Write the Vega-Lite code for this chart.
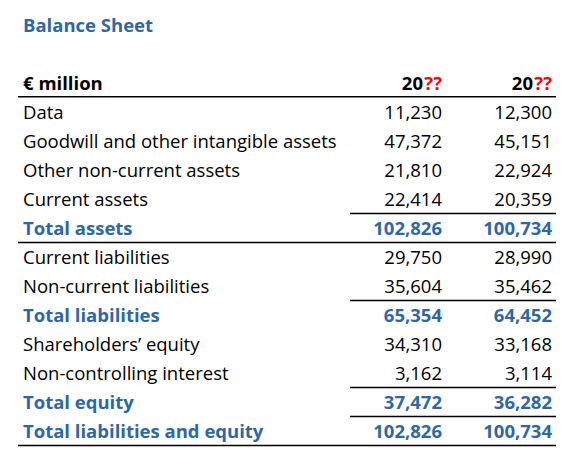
{
  "$schema": "https://vega.github.io/schema/vega-lite/v6.json",
  "width": 577,
  "height": 468,
  "padding": 0,
  "autosize": {"type": "none"},
  "background": "white",
  "config": {"view": {"stroke": null}, "text": {"font": "Open Sans", "fontSize": 18.5}},
  "datasets": {
    "labels": [
      {"row": -2, "col": -1, "text": "Balance Sheet", "kind": "title"},
      {"row": 0, "col": -1, "text": "€ million", "kind": "header"},
      {"row": 1, "col": -1, "text": "Data", "kind": "item"},
      {"row": 2, "col": -1, "text": "Goodwill and other intangible assets", "kind": "item"},
      {"row": 3, "col": -1, "text": "Other non-current assets", "kind": "item"},
      {"row": 4, "col": -1, "text": "Current assets", "kind": "item"},
      {"row": 5, "col": -1, "text": "Total assets", "kind": "total"},
      {"row": 6, "col": -1, "text": "Current liabilities", "kind": "item"},
      {"row": 7, "col": -1, "text": "Non-current liabilities", "kind": "item"},
      {"row": 8, "col": -1, "text": "Total liabilities", "kind": "total"},
      {"row": 9, "col": -1, "text": "Shareholders’ equity", "kind": "item"},
      {"row": 10, "col": -1, "text": "Non-controlling interest", "kind": "item"},
      {"row": 11, "col": -1, "text": "Total equity", "kind": "total"},
      {"row": 12, "col": -1, "text": "Total liabilities and equity", "kind": "total"}
    ],
    "values": [
      {"row": 1, "col": 1, "value": 11230, "kind": "item"},
      {"row": 1, "col": 2, "value": 12300, "kind": "item"},
      {"row": 2, "col": 1, "value": 47372, "kind": "item"},
      {"row": 2, "col": 2, "value": 45151, "kind": "item"},
      {"row": 3, "col": 1, "value": 21810, "kind": "item"},
      {"row": 3, "col": 2, "value": 22924, "kind": "item"},
      {"row": 4, "col": 1, "value": 22414, "kind": "item"},
      {"row": 4, "col": 2, "value": 20359, "kind": "item"},
      {"row": 5, "col": 1, "value": 102826, "kind": "total"},
      {"row": 5, "col": 2, "value": 100734, "kind": "total"},
      {"row": 6, "col": 1, "value": 29750, "kind": "item"},
      {"row": 6, "col": 2, "value": 28990, "kind": "item"},
      {"row": 7, "col": 1, "value": 35604, "kind": "item"},
      {"row": 7, "col": 2, "value": 35462, "kind": "item"},
      {"row": 8, "col": 1, "value": 65354, "kind": "total"},
      {"row": 8, "col": 2, "value": 64452, "kind": "total"},
      {"row": 9, "col": 1, "value": 34310, "kind": "item"},
      {"row": 9, "col": 2, "value": 33168, "kind": "item"},
      {"row": 10, "col": 1, "value": 3162, "kind": "item"},
      {"row": 10, "col": 2, "value": 3114, "kind": "item"},
      {"row": 11, "col": 1, "value": 37472, "kind": "total"},
      {"row": 11, "col": 2, "value": 36282, "kind": "total"},
      {"row": 12, "col": 1, "value": 102826, "kind": "total"},
      {"row": 12, "col": 2, "value": 100734, "kind": "total"}
    ],
    "header": [
      {"row": 0, "col": 1, "century": "20", "unknown": "??"},
      {"row": 0, "col": 2, "century": "20", "unknown": "??"}
    ],
    "rules": [
      {"row": 0.47, "from": -1, "to": 2},
      {"row": 4.5, "from": 0, "to": 2},
      {"row": 5.5, "from": -1, "to": 2},
      {"row": 7.5, "from": 0, "to": 2},
      {"row": 10.5, "from": 0, "to": 2},
      {"row": 11.5, "from": 0, "to": 2},
      {"row": 12.5, "from": -1, "to": 2}
    ]
  },
  "layer": [
    {
      "data": {"name": "rules"},
      "mark": {"type": "rule", "color": "#000000", "strokeWidth": 1.5},
      "encoding": {
        "x": {"field": "from", "type": "quantitative", "scale": {"type": "linear", "domain": [-1, 0, 1, 2], "range": [18, 350, 446, 556], "zero": false, "nice": false}, "axis": null},
        "x2": {"field": "to"},
        "y": {"field": "row", "type": "quantitative", "scale": {"type": "linear", "domain": [-2.862069, 13.275862], "range": [0, 468], "zero": false, "nice": false}, "axis": null}
      }
    },
    {
      "data": {"name": "labels"},
      "transform": [{"filter": "datum.kind === 'item'"}],
      "mark": {"type": "text", "align": "left", "baseline": "middle", "dx": 5, "dy": 1, "color": "#000000"},
      "encoding": {
        "x": {"field": "col", "type": "quantitative", "axis": null},
        "y": {"field": "row", "type": "quantitative", "axis": null},
        "text": {"field": "text"}
      }
    },
    {
      "data": {"name": "labels"},
      "transform": [{"filter": "datum.kind !== 'item'"}],
      "mark": {"type": "text", "align": "left", "baseline": "middle", "dx": 5, "dy": 1, "fontWeight": "bold"},
      "encoding": {
        "x": {"field": "col", "type": "quantitative", "axis": null},
        "y": {"field": "row", "type": "quantitative", "axis": null},
        "text": {"field": "text"},
        "color": {"field": "kind", "type": "nominal", "scale": {"domain": ["title", "header", "total"], "range": ["#2E67A6", "#000000", "#2E67A6"]}, "legend": null}
      }
    },
    {
      "data": {"name": "values"},
      "transform": [{"filter": "datum.kind === 'item'"}],
      "mark": {"type": "text", "align": "right", "baseline": "middle", "dx": -4, "dy": 1, "color": "#000000"},
      "encoding": {
        "x": {"field": "col", "type": "quantitative", "axis": null},
        "y": {"field": "row", "type": "quantitative", "axis": null},
        "text": {"field": "value", "type": "quantitative", "format": ","}
      }
    },
    {
      "data": {"name": "values"},
      "transform": [{"filter": "datum.kind === 'total'"}],
      "mark": {"type": "text", "align": "right", "baseline": "middle", "dx": -4, "dy": 1, "fontWeight": "bold", "color": "#2E67A6"},
      "encoding": {
        "x": {"field": "col", "type": "quantitative", "axis": null},
        "y": {"field": "row", "type": "quantitative", "axis": null},
        "text": {"field": "value", "type": "quantitative", "format": ","}
      }
    },
    {
      "data": {"name": "header"},
      "mark": {"type": "text", "align": "right", "baseline": "middle", "dx": -23, "dy": 1, "fontWeight": "bold", "color": "#000000"},
      "encoding": {
        "x": {"field": "col", "type": "quantitative", "axis": null},
        "y": {"field": "row", "type": "quantitative", "axis": null},
        "text": {"field": "century"}
      }
    },
    {
      "data": {"name": "header"},
      "mark": {"type": "text", "align": "right", "baseline": "middle", "dx": -4, "dy": 1, "fontWeight": "bold", "color": "#FF0000"},
      "encoding": {
        "x": {"field": "col", "type": "quantitative", "axis": null},
        "y": {"field": "row", "type": "quantitative", "axis": null},
        "text": {"field": "unknown"}
      }
    }
  ]
}
